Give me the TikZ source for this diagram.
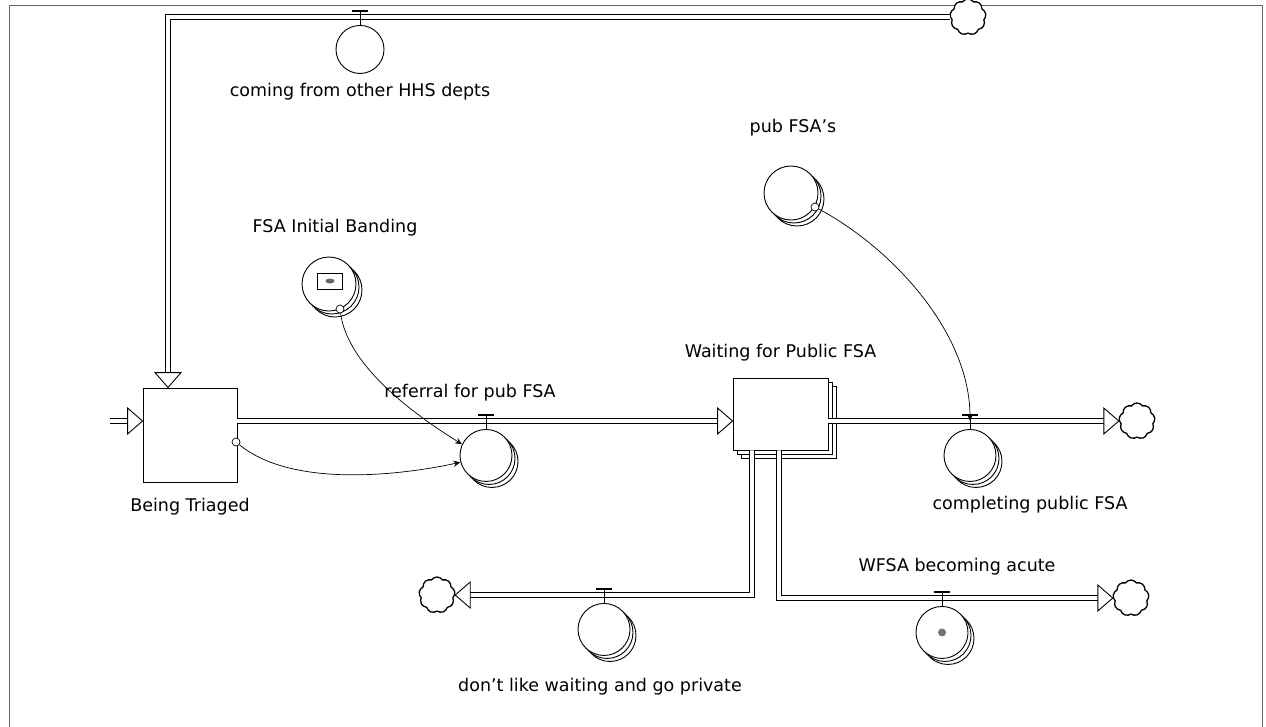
\documentclass[tikz,border=0pt]{standalone}
\usepackage{fontspec}
\setmainfont{DejaVu Sans}
\usetikzlibrary{positioning,shapes.symbols,shapes.geometric,shadows,arrows.meta}

\tikzset{
  stock/.style={draw, fill=white, line width=0.9pt, minimum width=94pt, minimum height=94pt, inner sep=0pt},
  conv/.style={circle, draw, fill=white, line width=0.9pt, minimum size=52pt, inner sep=0pt},
  arr/.style={double copy shadow={shadow xshift=3pt, shadow yshift=-3pt}},
  boxarr/.style={double copy shadow={shadow xshift=4pt, shadow yshift=-4pt}},
  cloudy/.style={cloud, cloud puffs=9, cloud puff arc=110, draw, fill=white, line width=1.3pt, aspect=1, minimum size=36pt, inner sep=0pt},
  pipe/.style={draw, line width=1pt, double=white, double distance=3.6pt, shorten >=14pt},
  link/.style={line width=0.7pt, -{Stealth[length=7pt, width=6pt]}},
  dot/.style={circle, draw, fill=white, minimum size=8pt, inner sep=0pt, line width=0.7pt},
  lbl/.style={font=\fontsize{17.5}{20}\selectfont, inner sep=0pt},
  flowtip/.pic={\draw[fill=white, line width=0.9pt] (0,0) -- (-15,-13) -- (-15,13) -- cycle;},
  valve/.pic={\draw[line width=1.3pt] (-8,-6) -- (8,-6); \draw[line width=0.9pt] (0,-6) -- (0,9);}
}

\begin{document}
\begin{tikzpicture}[x=1pt, y=-1pt]
\useasboundingbox (0,0) rectangle (1266,726);
\draw[line width=0.8pt, black!60] (9,5) rectangle (1262,740);

% Stocks
\node[stock] (triage) at (190,435) {};
\node[lbl, below=16pt of triage] (triagelbl) {Being Triaged};
\node[stock, boxarr, minimum width=95pt, minimum height=72pt] (wait) at (780.5,414) {};
\node[lbl, above=16pt of wait] (waitlbl) {Waiting for Public FSA};

% Clouds
\node[cloudy] (srctop) at (968,17) {};
\node[cloudy] (sinkdone) at (1137,421) {};
\node[cloudy] (sinkpriv) at (437,595) {};
\node[cloudy] (sinkacute) at (1131,598) {};

% Pipe points
\coordinate (inl) at (110,421);
\coordinate (corner) at (168,17);
\coordinate (privx) at (752,595);
\coordinate (acutex) at (779,598);

% Flows
\draw[pipe] (srctop.west) -- (corner) -- (corner |- triage.north);
\pic[rotate=-90] at (corner |- triage.north) {flowtip};
\draw[pipe] (inl) -- (inl -| triage.west);
\pic at (inl -| triage.west) {flowtip};
\draw[pipe] (inl -| triage.east) -- (inl -| wait.west);
\pic at (inl -| wait.west) {flowtip};
\draw[pipe] (inl -| wait.east) -- (inl -| sinkdone.west);
\pic at (inl -| sinkdone.west) {flowtip};
\draw[pipe] (privx |- wait.south) -- (privx) -- (sinkpriv.east);
\pic[rotate=180] at (sinkpriv.east) {flowtip};
\draw[pipe] (acutex |- wait.south) -- (acutex) -- (sinkacute.west);
\pic at (sinkacute.west) {flowtip};

% Valves
\coordinate (vtop) at (360,17);
\node[conv, minimum size=48pt, below=8pt of vtop] (fromhhs) {};
\pic at (vtop) {valve};
\node[lbl, below=9pt of fromhhs] (fromhhslbl) {coming from other HHS depts};

\coordinate (vref) at (486,421);
\node[conv, arr, below=8pt of vref] (referral) {};
\pic at (vref) {valve};
\node[lbl] (referrallbl) at (470,393) {referral for pub FSA};

\coordinate (vdone) at (970,421);
\node[conv, arr, below=8pt of vdone] (completing) {};
\pic at (vdone) {valve};
\node[lbl] (completinglbl) at (1030,505) {completing public FSA};

\coordinate (vpriv) at (604,595);
\node[conv, arr, below=8pt of vpriv] (private) {};
\pic at (vpriv) {valve};
\node[lbl] (privatelbl) at (600,687) {don't like waiting and go private};

\coordinate (vacute) at (942,598);
\node[conv, arr, below=8pt of vacute] (acute) {};
\pic at (vacute) {valve};
\node[circle, fill=black!55, minimum size=8pt, inner sep=0pt] (acutedot) at (acute) {};
\node[lbl] (acutelbl) at (957,567) {WFSA becoming acute};

% Converters
\node[conv, arr, minimum size=54pt] (banding) at (329,284) {};
\node[draw, line width=0.9pt, minimum width=25pt, minimum height=16pt, inner sep=0pt] (bandicon) at (330,281) {};
\node[ellipse, fill=black!60, minimum width=9pt, minimum height=5pt, inner sep=0pt] at (bandicon) {};
\node[lbl] (bandinglbl) at (335,228) {FSA Initial Banding};

\node[conv, arr, minimum size=54pt] (pubfsa) at (791,193) {};
\node[lbl] (pubfsalbl) at (793,128) {pub FSA's};

% Connectors
\node[dot] (triagedot) at (236,442) {};
\node[dot] (bandingdot) at (340,309) {};
\node[dot] (pubfsadot) at (815,207) {};
\draw[link] (bandingdot) .. controls +(8,60) and +(-40,-25) .. (referral.155);
\draw[link] (triagedot) .. controls +(55,45) and +(-65,14) .. (referral.195);
\draw[link] (pubfsadot) .. controls +(75,40) and +(0,-90) .. (vdone);
\end{tikzpicture}
\end{document}
